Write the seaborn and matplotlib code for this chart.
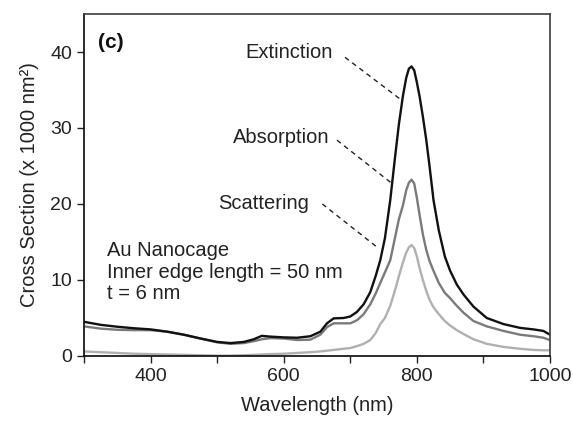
import numpy as np
import pandas as pd
import matplotlib
matplotlib.use("Agg")
import matplotlib.pyplot as plt
import seaborn as sns

# wavelength grid (nm) and cross sections (x 1000 nm^2)
wavelength = [300, 325, 350, 375, 400, 425, 450, 475, 500, 520, 540, 555, 567, 580,
              600, 620, 640, 655, 665, 675, 690, 700, 710, 720, 730, 738, 745, 752,
              760, 767, 773, 779, 784, 788, 792, 796, 800, 804, 809, 814, 819, 825,
              833, 842, 850, 860, 870, 885, 905, 930, 955, 975, 990, 1000]

extinction = [4.5, 4.1, 3.85, 3.65, 3.5, 3.2, 2.8, 2.3, 1.85, 1.7, 1.85, 2.2, 2.65, 2.55,
              2.45, 2.4, 2.6, 3.2, 4.3, 4.95, 5.0, 5.2, 5.8, 6.8, 8.4, 10.5, 12.6, 15.5,
              20.5, 26.0, 30.5, 34.2, 36.6, 37.8, 38.1, 37.6, 36.0, 34.2, 31.5, 28.5, 25.0, 20.5,
              16.5, 13.1, 11.2, 9.4, 8.1, 6.5, 5.0, 4.2, 3.7, 3.5, 3.3, 2.8]

absorption = [3.9, 3.6, 3.45, 3.4, 3.4, 3.2, 2.8, 2.3, 1.8, 1.6, 1.7, 1.95, 2.2, 2.35,
              2.3, 2.1, 2.15, 2.8, 3.8, 4.3, 4.3, 4.3, 4.7, 5.5, 6.8, 8.2, 9.6, 11.0,
              12.6, 15.5, 18.0, 19.8, 21.8, 22.8, 23.2, 22.7, 20.8, 18.6, 16.0, 14.0, 12.5, 11.2,
              9.6, 8.3, 7.6, 6.6, 5.7, 4.6, 3.9, 3.3, 2.8, 2.6, 2.4, 2.1]

scattering = [0.6, 0.5, 0.4, 0.3, 0.25, 0.2, 0.15, 0.1, 0.05, 0.05, 0.1, 0.15, 0.2, 0.25,
              0.3, 0.4, 0.5, 0.6, 0.7, 0.8, 0.95, 1.05, 1.3, 1.6, 2.1, 3.0, 4.2, 5.0,
              6.6, 8.6, 10.5, 12.3, 13.6, 14.3, 14.6, 14.2, 13.1, 11.6, 10.0, 8.6, 7.4, 6.4,
              5.5, 4.6, 4.0, 3.4, 2.9, 2.2, 1.6, 1.2, 0.95, 0.8, 0.75, 0.75]

series_names = ["Scattering", "Absorption", "Extinction"]
series_colors = {"Scattering": "#b0b0b0", "Absorption": "#7a7a7a", "Extinction": "#111111"}

df = pd.concat([
    pd.DataFrame({"wl": wavelength, "cs": scattering, "kind": "Scattering"}),
    pd.DataFrame({"wl": wavelength, "cs": absorption, "kind": "Absorption"}),
    pd.DataFrame({"wl": wavelength, "cs": extinction, "kind": "Extinction"}),
])

sns.set_theme(style="ticks")
plt.rcParams["font.family"] = ["Liberation Sans", "DejaVu Sans"]

fig = plt.figure(figsize=(5.73, 4.23), dpi=100)
ax = fig.add_axes([0.1466, 0.1584, 0.8133, 0.8085])

sns.lineplot(data=df, x="wl", y="cs", hue="kind", hue_order=series_names,
             palette=series_colors, linewidth=1.7, legend=False, ax=ax)
for ln in ax.lines:
    ln.set_solid_joinstyle("round")

ax.set_xlim(300, 1000)
ax.set_ylim(0, 45)
ax.set_xticks(np.arange(300, 1001, 100))
ax.set_xticklabels(["" if v % 200 else str(v) for v in range(300, 1001, 100)])
ax.set_yticks([0, 10, 20, 30, 40])
ax.tick_params(direction="out", length=5, width=1, labelsize=14, colors="#222222")

for side in ["left", "bottom"]:
    ax.spines[side].set_color("#111111")
for side in ["top", "right"]:
    ax.spines[side].set_visible(True)
    ax.spines[side].set_color("#444444")

ax.set_xlabel("Wavelength (nm)", fontsize=14.5, color="#222222", labelpad=8)
ax.set_ylabel("Cross Section (x 1000 nm²)", fontsize=14.5, color="#222222", labelpad=8)

# labels with dashed leader lines
dash = (0, (3.5, 3))
ax.text(674, 39.9, "Extinction", ha="right", va="center", fontsize=14.5, color="#222222")
ax.plot([692, 778], [39.3, 33.6], ls=dash, lw=1.0, color="#222222")
ax.text(668, 28.8, "Absorption", ha="right", va="center", fontsize=14.5, color="#222222")
ax.plot([680, 764], [28.4, 22.6], ls=dash, lw=1.0, color="#222222")
ax.text(638, 20.1, "Scattering", ha="right", va="center", fontsize=14.5, color="#222222")
ax.plot([658, 742], [20.0, 14.2], ls=dash, lw=1.0, color="#222222")

ax.text(321, 41.3, "(c)", ha="left", va="center", fontsize=15, fontweight="bold", color="#111111")
ax.text(335, 11.05, "Au Nanocage\nInner edge length = 50 nm\nt = 6 nm",
        ha="left", va="center", fontsize=14.5, linespacing=1.15, color="#222222")

fig.savefig("out.png", dpi=100)
